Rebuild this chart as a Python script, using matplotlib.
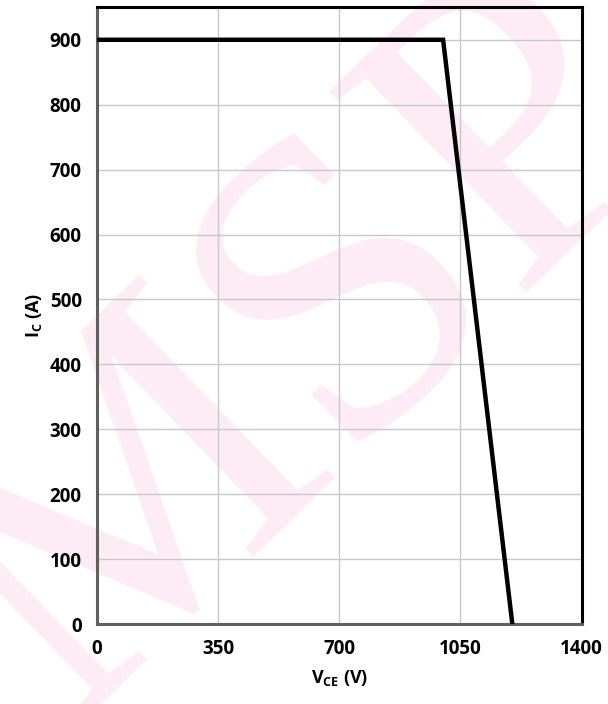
import matplotlib
matplotlib.use("Agg")
import matplotlib.pyplot as plt

vce = [0, 1000, 1200]
ic = [900, 900, 0]
x_ticks = [0, 350, 700, 1050, 1400]
y_ticks = [0, 100, 200, 300, 400, 500, 600, 700, 800, 900]

plt.rcParams['font.family'] = ['Open Sans', 'DejaVu Sans']
plt.rcParams['mathtext.fontset'] = 'custom'
plt.rcParams['mathtext.rm'] = 'Open Sans:bold'
plt.rcParams['mathtext.it'] = 'Open Sans:bold'
plt.rcParams['mathtext.bf'] = 'Open Sans:bold'

fig = plt.figure(figsize=(6.08, 7.04), dpi=100)
ax = fig.add_axes([0.1595, 0.1136, 0.797, 0.876])

fig.text(0.50, 0.50, 'MSP', fontsize=310, family='Liberation Serif', color='#fdebf5',
         rotation=44, ha='center', va='center', zorder=-5)

ax.patch.set_alpha(0)
ax.plot(vce, ic, color='black', lw=3.2, solid_joinstyle='miter', zorder=3)
ax.set_xlim(0, 1400)
ax.set_ylim(0, 950)
ax.set_xticks(x_ticks)
ax.set_yticks(y_ticks)
ax.grid(True, color='#c8c8c8', lw=1.0)
ax.tick_params(length=0, labelsize=13.5, pad=11)
for lab in ax.get_xticklabels() + ax.get_yticklabels():
    lab.set_fontweight('bold')
for s in ['top', 'right']:
    ax.spines[s].set_color('black')
    ax.spines[s].set_linewidth(2.2)
for s in ['left', 'bottom']:
    ax.spines[s].set_color('#606060')
    ax.spines[s].set_linewidth(2.2)
ax.set_xlabel('V$_{\\mathrm{CE}}$ (V)', fontsize=13, fontweight='bold', labelpad=6)
ax.set_ylabel('I$_{\\mathrm{C}}$ (A)', fontsize=13, fontweight='bold', labelpad=4)

fig.savefig('out.png', dpi=100)
